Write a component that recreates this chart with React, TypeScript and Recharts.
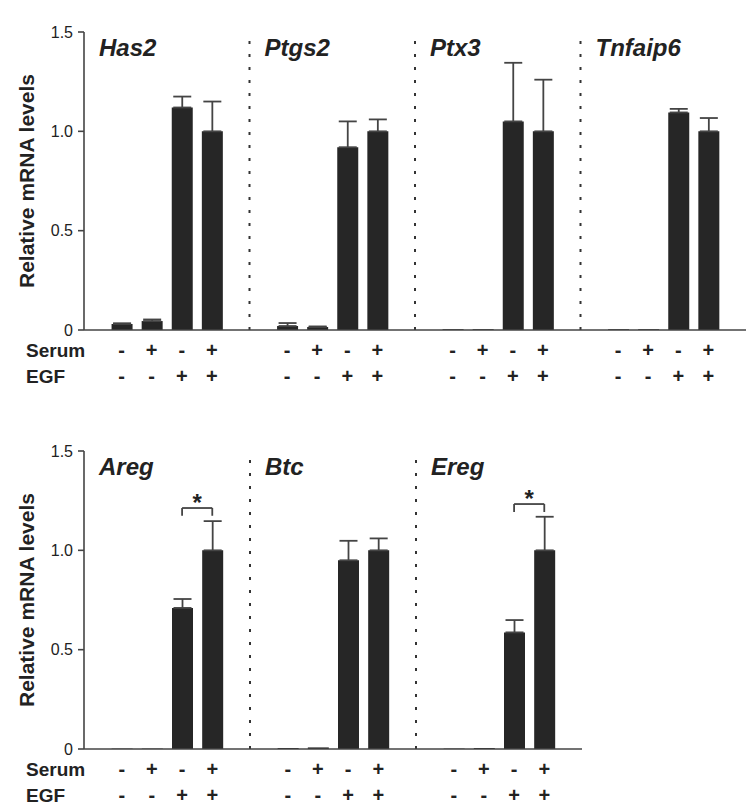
import React from 'react';
import { BarChart, Bar, XAxis, YAxis, ErrorBar, ReferenceLine, ReferenceDot } from 'recharts';

// ---- data ----
const genesTop = ['Has2', 'Ptgs2', 'Ptx3', 'Tnfaip6'];
const meansTop = [
  [0.03, 0.045, 1.12, 1.0],
  [0.02, 0.015, 0.92, 1.0],
  [0.004, 0.004, 1.05, 1.0],
  [0.004, 0.004, 1.095, 1.0],
];
const errsTop = [
  [0.004, 0.008, 0.055, 0.15],
  [0.015, 0.003, 0.13, 0.06],
  [0, 0, 0.295, 0.26],
  [0, 0, 0.018, 0.067],
];

const genesBottom = ['Areg', 'Btc', 'Ereg'];
const meansBottom = [
  [0.002, 0.002, 0.71, 1.0],
  [0.005, 0.008, 0.95, 1.0],
  [0.002, 0.005, 0.587, 1.0],
];
const errsBottom = [
  [0, 0, 0.045, 0.147],
  [0, 0, 0.098, 0.06],
  [0, 0, 0.062, 0.169],
];
// significance brackets: [gene, bracket top value, leg bottom value, star value]
const sigBottom: [string, number, number, number][] = [
  ['Areg', 1.213, 1.174, 1.27],
  ['Ereg', 1.233, 1.193, 1.29],
];

const serumSigns = ['-', '+', '-', '+'];
const egfSigns = ['-', '-', '+', '+'];
const rowLabels = ['Serum', 'EGF'];
const yTicks = [0, 0.5, 1.0, 1.5];
const yTickLabels = ['0', '0.5', '1.0', '1.5'];
const yLabel = 'Relative mRNA levels';

// x layout in "bar units": each gene panel is 5.5 units wide, bars at 1.25, 2.25, 3.25, 4.25
const panelUnits = 5.5;
const barOffsets = [1.25, 2.25, 3.25, 4.25];

const FONT = '"Liberation Sans", Arial, Helvetica, sans-serif';
const INK = '#222';
const AXIS = '#444';

type Row = {
  x: number;
  gene: string;
  value: number;
  errRange: [number, number] | null;
  serum: string;
  egf: string;
};

function buildRows(genes: string[], means: number[][], errs: number[][]): Row[] {
  const rows: Row[] = [];
  genes.forEach((g, gi) => {
    barOffsets.forEach((off, j) => {
      rows.push({
        x: gi * panelUnits + off,
        gene: g,
        value: means[gi][j],
        errRange: errs[gi][j] > 0 ? [0, errs[gi][j]] : null,
        serum: serumSigns[j],
        egf: egfSigns[j],
      });
    });
  });
  return rows;
}

function Panel({
  genes, means, errs, sig, width, height, marginRight, xAxisHeight,
}: {
  genes: string[]; means: number[][]; errs: number[][];
  sig: [string, number, number, number][];
  width: number; height: number; marginRight: number; xAxisHeight: number;
}) {
  const rows = buildRows(genes, means, errs);
  const xMax = genes.length * panelUnits;
  const xTicks = rows.map((r) => r.x);

  const renderTick = (props: any) => {
    const { x, y, index } = props;
    const row = rows[index];
    const out: React.ReactNode[] = [];
    if (index === 0) {
      out.push(
        <text key="l1" x={26} y={y + 27} fontFamily={FONT} fontWeight="bold" fontSize={19} fill={INK}>{rowLabels[0]}</text>,
        <text key="l2" x={26} y={y + 53} fontFamily={FONT} fontWeight="bold" fontSize={19} fill={INK}>{rowLabels[1]}</text>,
      );
    }
    if (row) {
      out.push(
        <text key="s" x={x} y={y + 27} textAnchor="middle" fontFamily={FONT} fontWeight="bold" fontSize={20} fill={INK}>{row.serum}</text>,
        <text key="e" x={x} y={y + 53} textAnchor="middle" fontFamily={FONT} fontWeight="bold" fontSize={20} fill={INK}>{row.egf}</text>,
      );
    }
    return <g>{out}</g>;
  };

  const renderYLabel = (props: any) => {
    const vb = props.viewBox || { x: 0, y: 0, width: 0, height: 0 };
    const cx = 26;
    const cy = vb.y + vb.height / 2;
    return (
      <text x={cx} y={cy} transform={`rotate(-90 ${cx} ${cy})`} textAnchor="middle" dominantBaseline="central"
        fontFamily={FONT} fontWeight="bold" fontSize={21} fill={INK}>{yLabel}</text>
    );
  };

  return (
    <BarChart width={width} height={height} data={rows}
      margin={{ top: 32, right: marginRight, bottom: 0, left: 0 }}>
      <XAxis dataKey="x" type="number" domain={[0, xMax]} ticks={xTicks} xAxisId="b" interval={0}
        tickLine={false} tickSize={0} tickMargin={0} allowDataOverflow
        height={xAxisHeight} axisLine={{ stroke: AXIS, strokeWidth: 1.6 }} tick={renderTick} />
      <XAxis dataKey="x" type="number" domain={[0, xMax]} xAxisId="t" orientation="top" height={0}
        tick={false} tickLine={false} allowDataOverflow
        axisLine={{ stroke: AXIS, strokeWidth: 1.6 }} />
      <YAxis yAxisId="l" domain={[0, 1.5]} ticks={yTicks} width={84} tickSize={6} tickMargin={5}
        tickFormatter={(v: number) => yTickLabels[yTicks.indexOf(v)] ?? String(v)}
        tick={{ fontFamily: FONT, fontSize: 16, fill: INK }}
        tickLine={{ stroke: AXIS, strokeWidth: 1.6 }} axisLine={{ stroke: AXIS, strokeWidth: 1.6 }}
        allowDataOverflow label={{ content: renderYLabel }} />
      <YAxis yAxisId="r" orientation="right" domain={[0, 1.5]} width={0} tick={false} tickLine={false}
        axisLine={{ stroke: AXIS, strokeWidth: 1.6 }} />

      {genes.slice(1).map((g, i) => (
        <ReferenceLine key={`div-${g}`} xAxisId="b" yAxisId="l" x={(i + 1) * panelUnits}
          stroke="#333" strokeWidth={2} strokeDasharray="3 10" />
      ))}

      <Bar dataKey="value" xAxisId="b" yAxisId="l" fill="#262626" barSize={21} isAnimationActive={false}>
        <ErrorBar dataKey="errRange" direction="y" width={9} stroke={AXIS} strokeWidth={1.8} />
      </Bar>

      {genes.map((g, gi) => (
        <ReferenceDot key={`name-${g}`} xAxisId="b" yAxisId="l" x={gi * panelUnits} y={1.5} r={1}
          ifOverflow="visible"
          shape={(p: any) => (
            <text x={p.cx + 15} y={p.cy + 24} fontFamily={FONT} fontWeight="bold" fontStyle="italic"
              fontSize={24} fill={INK}>{g}</text>
          )} />
      ))}

      {sig.map(([g, top, leg, star]) => {
        const gi = genes.indexOf(g);
        const x1 = gi * panelUnits + barOffsets[2];
        const x2 = gi * panelUnits + barOffsets[3];
        const xm = (x1 + x2) / 2;
        return (
          <React.Fragment key={`sig-${g}`}>
            <ReferenceLine xAxisId="b" yAxisId="l" stroke={AXIS} strokeWidth={1.8}
              segment={[{ x: x1, y: top }, { x: x2, y: top }]} />
            <ReferenceLine xAxisId="b" yAxisId="l" stroke={AXIS} strokeWidth={1.8}
              segment={[{ x: x1, y: top }, { x: x1, y: leg }]} />
            <ReferenceLine xAxisId="b" yAxisId="l" stroke={AXIS} strokeWidth={1.8}
              segment={[{ x: x2, y: top }, { x: x2, y: leg }]} />
            <ReferenceDot xAxisId="b" yAxisId="l" x={xm} y={star} r={1}
              shape={(p: any) => (
                <text x={p.cx} y={p.cy + 14} textAnchor="middle" fontFamily={FONT} fontWeight="bold"
                  fontSize={24} fill={INK}>*</text>
              )} />
          </React.Fragment>
        );
      })}
    </BarChart>
  );
}

export default function App() {
  return (
    <div style={{ position: 'absolute', left: 0, top: 0, width: 750, height: 808, overflow: 'hidden', background: '#fff' }}>
      <div style={{ position: 'absolute', left: 0, top: 0 }}>
        <Panel genes={genesTop} means={meansTop} errs={errsTop} sig={[]}
          width={750} height={400} marginRight={4} xAxisHeight={70} />
      </div>
      <div style={{ position: 'absolute', left: 0, top: 419 }}>
        <Panel genes={genesBottom} means={meansBottom} errs={errsBottom} sig={sigBottom}
          width={750} height={389} marginRight={168} xAxisHeight={59} />
      </div>
    </div>
  );
}
